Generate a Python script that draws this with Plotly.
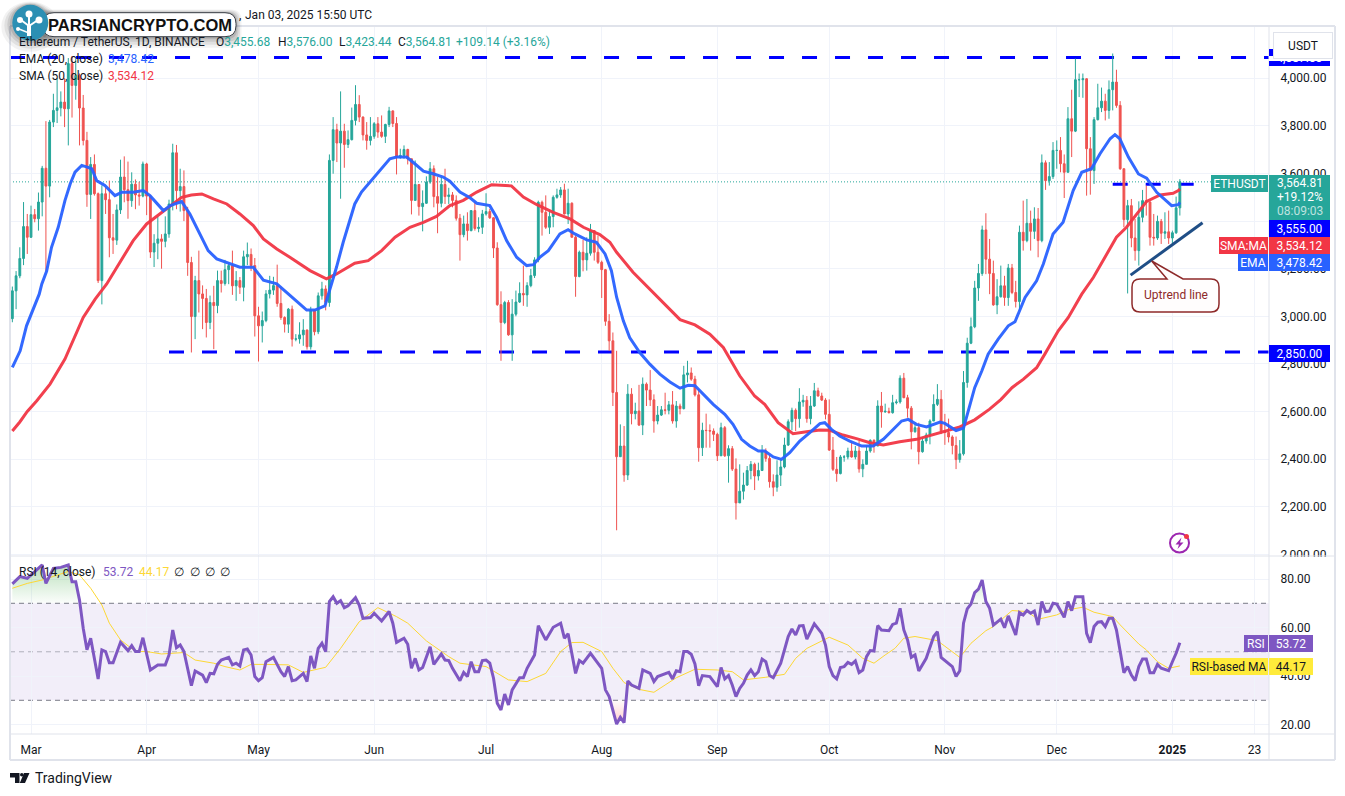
import pandas as pd
import plotly.graph_objects as go
from plotly.subplots import make_subplots

# ETHUSDT daily candles, one entry per day from 2024-02-25
first_open = 2990
closes = [3107, 3170, 3243, 3377, 3332, 3427, 3410, 3480, 3622, 3547, 3816, 3865, 3876, 3900, 3872, 4062, 3970, 4012, 3875, 3739,
          3512, 3638, 3515, 3150, 3515, 3490, 3330, 3320, 3447, 3585, 3532, 3486, 3555, 3510, 3505, 3640, 3505, 3270, 3307, 3325,
          3315, 3346, 3472, 3687, 3528, 3545, 3444, 3226, 2999, 3150, 3094, 3075, 2974, 3058, 3045, 3150, 3138, 3196, 3213, 3128,
          3150, 3122, 3250, 3260, 3213, 3002, 2960, 2982, 3094, 3110, 3129, 3054, 2995, 2967, 3030, 2904, 2905, 2922, 2942, 2872,
          3026, 2935, 3086, 3115, 3058, 3655, 3784, 3728, 3778, 3722, 3742, 3823, 3890, 3837, 3762, 3739, 3756, 3809, 3774, 3756,
          3806, 3863, 3810, 3669, 3676, 3701, 3662, 3487, 3554, 3461, 3475, 3564, 3620, 3503, 3475, 3554, 3503, 3510, 3487, 3412,
          3343, 3388, 3360, 3444, 3369, 3374, 3430, 3440, 3414, 3287, 3049, 2974, 3058, 2922, 3009, 3060, 3096, 3090, 3129, 3171,
          3237, 3479, 3437, 3374, 3419, 3500, 3510, 3531, 3430, 3475, 3332, 3167, 3269, 3237, 3265, 3360, 3269, 3227, 3196, 2979,
          2897, 2680, 2410, 2455, 2333, 2673, 2591, 2602, 2543, 2715, 2690, 2649, 2560, 2585, 2607, 2605, 2628, 2560, 2623, 2612,
          2754, 2762, 2736, 2670, 2448, 2521, 2520, 2518, 2504, 2414, 2532, 2414, 2444, 2358, 2216, 2265, 2291, 2352, 2378, 2329,
          2352, 2434, 2403, 2305, 2282, 2333, 2367, 2459, 2557, 2605, 2570, 2640, 2647, 2570, 2623, 2687, 2665, 2648, 2588, 2438,
          2357, 2339, 2409, 2409, 2434, 2409, 2434, 2359, 2378, 2434, 2479, 2455, 2623, 2598, 2601, 2595, 2637, 2640, 2740, 2658,
          2614, 2515, 2532, 2431, 2476, 2501, 2560, 2630, 2651, 2518, 2512, 2493, 2457, 2398, 2422, 2722, 2887, 2956, 3119, 3180,
          3363, 3240, 3180, 3048, 3082, 3128, 3079, 3203, 3100, 3062, 3353, 3318, 3391, 3357, 3409, 3318, 3645, 3570, 3587, 3697,
          3697, 3641, 3605, 3830, 3778, 3994, 3994, 3998, 3704, 3612, 3826, 3876, 3904, 3865, 3952, 3984, 3886, 3620, 3406, 3465,
          3329, 3276, 3416, 3486, 3480, 3332, 3329, 3399, 3349, 3355, 3329, 3351, 3455.68, 3564.81]
highs = [3125, 3190, 3290, 3480, 3430, 3465, 3451, 3520, 3632, 3820, 3825, 3935, 4000, 3945, 4000, 4085, 4093, 4083, 4020, 3930,
         3775, 3669, 3680, 3520, 3550, 3542, 3570, 3430, 3470, 3658, 3672, 3650, 3605, 3575, 3565, 3650, 3645, 3510, 3345, 3420,
         3345, 3420, 3490, 3725, 3720, 3620, 3613, 3460, 3250, 3170, 3276, 3130, 3115, 3087, 3128, 3192, 3192, 3237, 3225, 3276,
         3190, 3165, 3276, 3310, 3285, 3245, 3040, 3020, 3110, 3170, 3166, 3217, 3125, 3000, 3035, 3045, 2925, 2975, 2988, 2945,
         3040, 3030, 3100, 3145, 3130, 3680, 3837, 3809, 3945, 3809, 3781, 3877, 3971, 3929, 3840, 3816, 3837, 3816, 3837, 3844,
         3809, 3880, 3865, 3837, 3704, 3718, 3704, 3662, 3655, 3554, 3529, 3588, 3648, 3634, 3585, 3585, 3620, 3540, 3522, 3508,
         3430, 3423, 3437, 3444, 3479, 3416, 3447, 3517, 3451, 3416, 3311, 3105, 3065, 3068, 3072, 3108, 3143, 3213, 3143, 3199,
         3248, 3486, 3486, 3508, 3444, 3508, 3536, 3543, 3557, 3536, 3479, 3339, 3276, 3321, 3332, 3388, 3353, 3339, 3234, 3199,
         3009, 2932, 2855, 2546, 2539, 2715, 2698, 2637, 2712, 2743, 2722, 2774, 2672, 2623, 2623, 2679, 2644, 2686, 2644, 2633,
         2792, 2813, 2785, 2750, 2694, 2553, 2591, 2546, 2529, 2511, 2553, 2539, 2458, 2455, 2403, 2378, 2343, 2371, 2392, 2385,
         2385, 2459, 2445, 2417, 2336, 2395, 2403, 2490, 2567, 2616, 2613, 2698, 2670, 2665, 2665, 2720, 2700, 2679, 2656, 2651,
         2493, 2409, 2417, 2417, 2448, 2476, 2455, 2476, 2399, 2455, 2483, 2483, 2647, 2682, 2633, 2616, 2670, 2651, 2752, 2762,
         2670, 2623, 2549, 2553, 2490, 2511, 2567, 2672, 2715, 2690, 2590, 2570, 2500, 2495, 2480, 2770, 2910, 2995, 3149, 3220,
         3381, 3433, 3325, 3234, 3156, 3213, 3170, 3220, 3220, 3149, 3381, 3486, 3493, 3444, 3458, 3455, 3680, 3655, 3648, 3732,
         3739, 3753, 3680, 3879, 3952, 4083, 4020, 4020, 4000, 3753, 3837, 3977, 3961, 3935, 3991, 4104, 4036, 3904, 3620, 3489,
         3493, 3409, 3483, 3531, 3549, 3483, 3430, 3423, 3409, 3437, 3444, 3360, 3503, 3576]
lows = [2975, 3030, 3160, 3215, 3262, 3330, 3395, 3360, 3420, 3190, 3500, 3795, 3812, 3840, 3795, 3718, 3835, 3910, 3718, 3718,
        3460, 3409, 3507, 3140, 3050, 3430, 3248, 3262, 3300, 3430, 3479, 3410, 3460, 3450, 3465, 3500, 3425, 3245, 3207, 3240,
        3200, 3290, 3330, 3445, 3450, 3440, 3400, 3170, 2848, 2904, 3016, 2946, 2911, 2946, 2862, 3013, 3100, 3129, 3135, 3090,
        3065, 3094, 3063, 3215, 3190, 2915, 2810, 2890, 2975, 3075, 3090, 3040, 2985, 2932, 2930, 2873, 2895, 2885, 2876, 2860,
        2860, 2920, 2925, 3070, 3025, 3040, 3599, 3648, 3494, 3624, 3707, 3739, 3802, 3816, 3739, 3700, 3718, 3746, 3750, 3750,
        3728, 3795, 3795, 3596, 3662, 3662, 3638, 3428, 3487, 3423, 3357, 3472, 3557, 3458, 3349, 3458, 3472, 3472, 3458, 3402,
        3234, 3332, 3318, 3357, 3360, 3353, 3346, 3423, 3409, 3245, 3044, 2813, 2967, 2918, 2813, 3000, 3056, 3044, 3040, 3122,
        3161, 3227, 3339, 3367, 3346, 3374, 3494, 3498, 3428, 3388, 3332, 3082, 3164, 3189, 3192, 3255, 3234, 3220, 3077, 2960,
        2855, 2623, 2101, 2409, 2305, 2312, 2546, 2567, 2539, 2501, 2623, 2623, 2511, 2546, 2581, 2588, 2588, 2549, 2532, 2588,
        2609, 2722, 2729, 2663, 2389, 2413, 2448, 2448, 2476, 2392, 2413, 2409, 2301, 2350, 2146, 2216, 2230, 2287, 2315, 2270,
        2310, 2350, 2389, 2280, 2244, 2263, 2287, 2361, 2455, 2521, 2518, 2532, 2620, 2553, 2546, 2619, 2663, 2644, 2567, 2434,
        2350, 2305, 2336, 2389, 2399, 2406, 2399, 2343, 2324, 2378, 2427, 2427, 2455, 2532, 2595, 2592, 2591, 2630, 2633, 2656,
        2574, 2441, 2511, 2378, 2427, 2465, 2462, 2560, 2623, 2505, 2460, 2470, 2420, 2358, 2385, 2415, 2700, 2883, 2950, 3065,
        3170, 3177, 3093, 3044, 3009, 3079, 3044, 3044, 3093, 3037, 3023, 3276, 3311, 3276, 3325, 3248, 3311, 3531, 3549, 3577,
        3620, 3605, 3497, 3605, 3669, 3774, 3921, 3918, 3507, 3511, 3556, 3823, 3858, 3823, 3830, 3865, 3876, 3615, 3374, 3096,
        3290, 3234, 3213, 3395, 3423, 3297, 3297, 3321, 3304, 3325, 3304, 3304, 3346, 3423.44]

# EMA 20 and SMA 50, read at the day offsets beside them
ema_days = [0, 2.1, 3.8, 5.6, 7.2, 7.9, 9.2, 10.5, 12.3, 14.1, 15.5, 16.8, 18.6, 20.1, 21.3, 22.6, 24.8, 27.5, 29.3, 32.4, 35.1, 36.9,
            40.5, 42.3, 45.4, 47.6, 50.3, 52.5, 54.8, 58.4, 61, 64.6, 67.3, 70.9, 74.4, 77.1, 78.9, 81.1, 83.8, 85.1, 86.9, 88.7,
            90.5, 91.8, 93.6, 95.9, 98.5, 101.2, 103, 105.7, 107.9, 110.2, 112.8, 115.5, 117.3, 120, 122.7, 124.5, 128, 129.8,
            132.5, 135.2, 137.9, 139.7, 141.4, 143.7, 146.8, 149, 150.8, 154, 156.6, 158.9, 160.6, 162, 163.8, 165.5, 168.2,
            170.9, 173.6, 176.3, 179, 181.2, 183, 185.2, 187.9, 191, 193.2, 195.5, 197.7, 200, 201.7, 204, 206.2, 208.4, 211.1,
            213.8, 216.5, 217.8, 219.6, 221.8, 224.5, 227.7, 230.8, 233.5, 236.1, 238.4, 240.2, 242.4, 245.1, 246.9, 248.7,
            250, 253, 255, 256, 257, 258, 259.9, 261.6, 264.3, 267, 268.8, 271.5, 274.6, 276.4, 279, 281.7, 284.4, 286.7, 289.3,
            291.6, 294.3, 295.6, 296.9, 299.2, 301.9, 304.1, 306.8, 309.5, 310.8, 312.6, 313]
ema_vals = [2785, 2855, 2960, 3030, 3093, 3136, 3190, 3290, 3374, 3486, 3556, 3606, 3634, 3627, 3620, 3570, 3550, 3507, 3521, 3521, 3528, 3507,
            3444, 3465, 3482, 3430, 3346, 3276, 3241, 3220, 3206, 3206, 3152, 3136, 3086, 3051, 3026, 3026, 3044, 3108, 3206, 3311,
            3402, 3472, 3522, 3564, 3613, 3662, 3669, 3669, 3641, 3610, 3599, 3585, 3568, 3522, 3498, 3475, 3465, 3416,
            3318, 3248, 3213, 3217, 3248, 3276, 3346, 3364, 3346, 3321, 3311, 3262, 3192, 3080, 2981, 2911, 2848,
            2799, 2757, 2724, 2698, 2710, 2708, 2672, 2630, 2588, 2546, 2483, 2455, 2434, 2434, 2409, 2399, 2427, 2476,
            2511, 2549, 2553, 2525, 2497, 2476, 2455, 2455, 2483, 2525, 2560, 2567, 2546, 2535, 2546, 2556,
            2550, 2520, 2530, 2590, 2650, 2700, 2770, 2841, 2904, 2960, 2977, 3079, 3149, 3220, 3346, 3395, 3528, 3605, 3620,
            3683, 3746, 3763, 3746, 3669, 3598, 3580, 3521, 3483, 3465, 3469, 3478.42]
sma_days = [0, 2, 4, 6.5, 10.1, 14.1, 19, 22.2, 25.3, 28, 32.4, 36, 39.6, 43.2, 45.4, 48, 50.8, 53.9, 57.5, 61, 64.6, 67.3, 70.9, 74.4, 78,
            79.8, 84.2, 86.9, 91.8, 95.4, 99, 102.6, 106.6, 110.2, 113.7, 117.3, 120.9, 124.5, 128.5, 133.8, 137, 140.5, 145, 149.5,
            153.1, 157.5, 160.2, 162, 166.4, 172.7, 176.3, 179, 183, 187, 190.6, 195, 199, 201.7, 205.3, 209.3, 212.9, 216.5, 219.2,
            222.7, 226.3, 229.9, 233.5, 237.9, 242.4, 248.7, 254, 258, 262, 265, 268, 271, 274.6, 276.8, 280.4, 283.1, 286.7, 289.8,
            293.4, 296, 298.7, 301.4, 304.1, 307.7, 311.2, 312.6, 313]
sma_vals = [2518, 2556, 2600, 2644, 2715, 2820, 2995, 3072, 3136, 3206, 3318, 3388, 3430, 3472, 3500, 3510, 3514, 3493, 3472, 3430, 3381, 3325, 3283, 3248, 3213,
            3192, 3157, 3178, 3223, 3234, 3276, 3332, 3374, 3395, 3420, 3465, 3487, 3522, 3553, 3548, 3501, 3470, 3437, 3409,
            3374, 3343, 3311, 3269, 3185, 3087, 3030, 2986, 2964, 2925, 2869, 2750, 2665, 2630, 2553, 2507, 2515, 2522, 2521,
            2501, 2486, 2469, 2459, 2473, 2483, 2511, 2535, 2565, 2610, 2650, 2700, 2735, 2784, 2841, 2939, 2995, 3093, 3163,
            3262, 3332, 3374, 3430, 3483, 3510, 3517, 3528, 3534.12]

# RSI pane
rsi_days = [0, 2, 4, 6, 8, 9, 11, 13, 15, 16, 17, 18, 19, 20, 21, 23, 24, 25, 26, 27, 29, 31, 32, 33, 34, 35, 37, 39, 41, 42, 43, 44, 45, 46, 48, 49,
            51, 52, 53, 54, 55, 56, 58, 59, 60, 61, 62, 63, 64, 65, 66, 67, 68, 70, 72, 73, 74, 75, 76, 78, 79, 80, 81, 82, 83, 84, 85, 86, 87, 88, 89, 90,
            92, 93, 94, 96, 97, 99, 101, 102, 103, 105, 106, 107, 108, 109, 110, 112, 113, 115, 116, 117, 118, 120, 121, 122, 123, 124, 125, 126, 127, 128,
            129, 130, 131, 132, 133, 134, 136, 137, 138, 140, 141, 143, 145, 147, 148, 149, 151, 152, 153, 155, 158, 159, 160, 162, 163, 164, 165, 166, 168,
            169, 171, 172, 173, 176, 177, 178, 179, 180, 181, 182, 183, 184, 185, 187, 189, 190, 191, 192, 193, 194, 195, 196, 197, 198, 199, 200, 201, 202,
            203, 204, 206, 208, 209, 210, 211, 212, 213, 215, 217, 218, 219, 220, 221, 222, 223, 224, 225, 226, 227, 228, 229, 230, 231, 232, 233, 235, 236,
            237, 238, 239, 240, 241, 242, 243, 245, 247, 248, 249, 250, 252, 253, 254, 255, 256, 257, 258, 259, 260, 261, 262, 263, 265, 266, 267, 269, 270,
            271, 272, 273, 274, 275, 276, 277, 278, 279, 280, 282, 283, 284, 285, 287, 288, 289, 290, 291, 292, 293, 294, 295, 296, 298, 299, 300, 301, 302,
            303, 304, 305, 306, 307, 308, 310, 311, 312, 313]
rsi_vals = [78, 81, 80.3, 83, 85.8, 78.2, 84.4, 84.8, 85.8, 78.9, 78.9, 71.4, 59.7, 50.8, 55.6, 38.8, 50.8, 50.1, 45.5, 45.5, 53.9, 50.5, 52.5, 50.1, 50.1, 55.8, 42.5, 44.6, 44.6, 48.7, 59, 51.7, 52.8, 50.1, 36, 42.1,
            40.4, 37.3, 41.1, 40.9, 44.8, 46.6, 47.7, 44.6, 45.3, 44.2, 50.8, 51.2, 48.7, 39.8, 38.1, 39.3, 45.9, 47.7, 41.8, 39.8, 43.9, 38.1, 38.4, 41.1, 37.7, 48.3, 43.2, 51.4, 53.5, 50.1, 70.7, 72.7, 70, 71.1, 68.2, 69,
            72.3, 69.3, 63.8, 64.1, 65.9, 62.7, 66.6, 61.8, 53.9, 55.6, 53.1, 43.2, 47.3, 42.5, 43.5, 52.1, 44.8, 49.1, 46.6, 46.4, 43.2, 38.1, 41.5, 39.8, 45.9, 41.8, 41.8, 46.4, 46.6, 45.3,
            39.1, 28.8, 26, 32.6, 28.1, 34.3, 39.3, 39.3, 43.2, 48.7, 60.8, 54.9, 60.1, 61.8, 55.6, 57.4, 41.1, 46.4, 45.3, 49.4, 43.2, 34.3, 31.5, 20.2, 23, 20.8, 38, 36.3, 34.9,
            42.5, 41.1, 37.7, 39.8, 41.5, 38.8, 42.2, 41.8, 50.1, 50.1, 49, 45, 36, 40.2, 39.8, 35.6, 43.5, 38.8, 40.2, 36.3, 31.5, 34.9, 37, 40.4, 42.5, 40.2, 41.8, 47, 45.9,
            40.2, 39.3, 45.3, 56.3, 59.4, 56.9, 60.7, 60.8, 55.2, 61.5, 57.6, 52.8, 43.9, 40.2, 38.8, 43.5, 43.9, 45.6, 44.8, 46.2, 41.4, 42.5, 48, 50.5, 50.3, 60.8, 59, 58.7, 61.3,
            61.8, 67.9, 59, 54.9, 47.7, 48.7, 42.1, 47.3, 56.3, 58.3, 47.7, 46.4, 43.9, 39.8, 42.2, 61.8, 67.7, 69.7, 74.4, 75.8, 79.6, 70.7, 67.9, 61, 63.5, 59.9, 64.8, 56.9, 66.2,
            65.2, 67, 65.9, 66.8, 61, 70.7, 66.6, 66.8, 70, 69.7, 64.2, 70.7, 67, 72.7, 72.7, 57.6, 53.8, 60.4, 62.2, 62.4, 60.4, 63.8, 63.8, 59, 41.4, 43.9, 40.4, 38.1, 43.9,
            47, 47, 41.4, 41.4, 44.8, 43.2, 42.2, 45.9, 49.4, 53.72]
rsi_ma_days = [0, 4, 8, 12, 15, 18, 21, 24, 26, 29, 33, 36, 40, 46, 49, 54, 57, 61, 64, 68, 74, 78, 84, 88, 93, 98, 103, 106, 111, 117, 120, 127, 133, 138, 143, 147,
               150, 153, 158, 161, 164, 168, 172, 175, 178, 183, 189, 193, 196, 202, 207, 210, 213, 219, 224, 228, 231, 234, 236.6, 239, 242, 248, 254, 257, 261, 263, 268,
               272, 275, 280, 283, 287, 290, 295, 297, 302, 304, 307, 310, 313]
rsi_ma_vals = [76.2, 78.2, 79.6, 81.7, 83.1, 81.7, 76.2, 69.3, 61.8, 54.9, 50.1, 50.1, 49.1, 49.7, 46.6, 45.3, 43.9, 42.5, 44.8, 44.8, 44.6, 41.5, 43.6, 51.4, 62.4, 68.2, 64.5, 61.8, 54.5, 48, 45.3, 43.9, 38.4, 37.7, 41.1, 50.1,
               53.8, 53.9, 50.1, 43.2, 37.3, 34.5, 33.3, 36.3, 39.3, 42.8, 42.5, 41.8, 38.4, 39.5, 40.7, 47.3, 51.4, 56, 52.8, 47.3, 45.3, 48.7, 51.4, 55.6, 56.3, 54.6, 47.7, 53.5, 58.7, 60.4, 67,
               66.6, 63.4, 65.2, 67.3, 68.4, 66.3, 64.5, 61.1, 53.2, 50.8, 45.9, 43.2, 44.17]

# levels and the drawn trend line
top_level = 4087
support_level = 2850
breakout_level = 3555
trend_dates = ["2024-12-20 19:00", "2025-01-09 02:00"]
trend_prices = [3173, 3393]
last_price = 3564.81

price_ticks = [2000, 2200, 2400, 2600, 2800, 3000, 3200, 3400, 3600, 3800, 4000]
# 3,400 lies wholly under the tags on the scale, so it carries no text
price_labels = ["2,000.00", "2,200.00", "2,400.00", "2,600.00", "2,800.00", "3,000.00", "3,200.00", "", "3,600.00", "3,800.00", "4,000.00"]
rsi_ticks = [20, 40, 60, 80]
time_ticks = ["2024-03-01", "2024-04-01", "2024-05-01", "2024-06-01", "2024-07-01", "2024-08-01",
              "2024-09-01", "2024-10-01", "2024-11-01", "2024-12-01", "2025-01-01", "2025-01-23"]
time_labels = ["Mar", "Apr", "May", "Jun", "Jul", "Aug", "Sep", "Oct", "Nov", "Dec", "<b>2025</b>", "23"]

W, H = 1345, 796
L, R, T, B = 10, 1269, 26, 734
SPLIT = 556
TEAL, RED, BLUE, PURE_BLUE = "#26a69a", "#ef5350", "#2962ff", "#0000ff"
SMA_RED, RSI_PURPLE, GOLD = "#f23645", "#7e57c2", "#fdd835"
INK, GRID, EDGE = "#131722", "#f0f3fa", "#e0e3eb"
FONT = "Roboto"


def px(x):
    return (x - L) / (R - L)


def py(y):
    return (B - y) / (B - T)


def round_rect(x0, y0, x1, y1, r):
    return (f"M{px(x0 + r)},{py(y0)} L{px(x1 - r)},{py(y0)} Q{px(x1)},{py(y0)} {px(x1)},{py(y0 + r)} "
            f"L{px(x1)},{py(y1 - r)} Q{px(x1)},{py(y1)} {px(x1 - r)},{py(y1)} L{px(x0 + r)},{py(y1)} "
            f"Q{px(x0)},{py(y1)} {px(x0)},{py(y1 - r)} L{px(x0)},{py(y0 + r)} Q{px(x0)},{py(y0)} {px(x0 + r)},{py(y0)} Z")


dates = pd.date_range("2024-02-25", periods=len(closes))
opens = [first_open] + closes[:-1]


def day_dates(days):
    return dates[0] + pd.to_timedelta(days, unit="D")


fig = make_subplots(rows=2, cols=1, shared_xaxes=True, vertical_spacing=0,
                    row_heights=[SPLIT - T, B - SPLIT])

# Price pane
fig.add_trace(go.Candlestick(x=dates, open=opens, high=highs, low=lows, close=closes,
                             increasing=dict(line=dict(color=TEAL, width=1), fillcolor=TEAL),
                             decreasing=dict(line=dict(color=RED, width=1), fillcolor=RED),
                             whiskerwidth=0, hoverinfo="skip"), row=1, col=1)
fig.add_trace(go.Scatter(x=day_dates(sma_days), y=sma_vals, mode="lines",
                         line=dict(color=SMA_RED, width=3), opacity=0.95, hoverinfo="skip"), row=1, col=1)
fig.add_trace(go.Scatter(x=day_dates(ema_days), y=ema_vals, mode="lines",
                         line=dict(color=BLUE, width=3), opacity=0.95, hoverinfo="skip"), row=1, col=1)
fig.add_trace(go.Scatter(x=trend_dates, y=trend_prices, mode="lines",
                         line=dict(color="#1f4e86", width=3), hoverinfo="skip"), row=1, col=1)

# RSI pane, with the shaded overbought and oversold parts
rsi_dates = day_dates(rsi_days)
fig.add_trace(go.Scatter(x=rsi_dates, y=[70] * len(rsi_vals), mode="lines", line=dict(width=0), hoverinfo="skip"), row=2, col=1)
fig.add_trace(go.Scatter(x=rsi_dates, y=[max(v, 70) for v in rsi_vals], mode="lines", line=dict(width=0), fill="tonexty",
                         fillgradient=dict(type="vertical", start=86, stop=70,
                                           colorscale=[[0, "rgba(76,175,80,0.38)"], [1, "rgba(76,175,80,0.02)"]]),
                         hoverinfo="skip"), row=2, col=1)
fig.add_trace(go.Scatter(x=rsi_dates, y=[30] * len(rsi_vals), mode="lines", line=dict(width=0), hoverinfo="skip"), row=2, col=1)
fig.add_trace(go.Scatter(x=rsi_dates, y=[min(v, 30) for v in rsi_vals], mode="lines", line=dict(width=0), fill="tonexty",
                         fillgradient=dict(type="vertical", start=30, stop=20,
                                           colorscale=[[0, "rgba(255,82,82,0.02)"], [1, "rgba(255,82,82,0.3)"]]),
                         hoverinfo="skip"), row=2, col=1)
fig.add_trace(go.Scatter(x=day_dates(rsi_ma_days), y=rsi_ma_vals, mode="lines",
                         line=dict(color=GOLD, width=1), hoverinfo="skip"), row=2, col=1)
fig.add_trace(go.Scatter(x=rsi_dates, y=rsi_vals, mode="lines",
                         line=dict(color=RSI_PURPLE, width=3), hoverinfo="skip"), row=2, col=1)

# Dashed levels sit over the grid and under the candles
for level, start, end in [(top_level, "2024-02-24 09:00", "2025-01-26 21:00"),
                          (support_level, "2024-04-07", "2025-01-26 21:00"),
                          (breakout_level, "2024-12-16", "2025-01-07 12:00")]:
    fig.add_shape(type="line", xref="x", yref="y", x0=start, x1=end, y0=level, y1=level, layer="between",
                  line=dict(color=PURE_BLUE, width=3, dash="15px,18px"))
fig.add_shape(type="line", xref="paper", yref="y", x0=0, x1=px(1211), y0=last_price, y1=last_price, layer="between",
              line=dict(color=TEAL, width=1, dash="1px,2px"))

fig.add_shape(type="rect", xref="paper", yref="y2", x0=0, x1=1, y0=30, y1=70, layer="below",
              fillcolor="rgba(126,87,194,0.1)", line_width=0)
for level, color in [(70, "#787b86"), (50, "rgba(120,123,134,0.55)"), (30, "#787b86")]:
    fig.add_shape(type="line", xref="paper", yref="y2", x0=0, x1=1, y0=level, y1=level, layer="between",
                  line=dict(color=color, width=1, dash="5px,4px"))

# Frame of the widget
for x0, y0, x1, y1 in [(L, T, 1335, T), (L, T, L, 760), (L, 760, 1335, 760), (1335, T, 1335, 760),
                       (R, T, R, 760), (L, SPLIT, 1335, SPLIT), (L, B, 1335, B)]:
    fig.add_shape(type="line", xref="paper", yref="paper", x0=px(x0), x1=px(x1), y0=py(y0), y1=py(y1),
                  line=dict(color=EDGE, width=2 if x0 == L and y0 in (T, 760) or x1 == 1335 and x0 == 1335 else 1))

# Callout for the trend line
callout = (f"M{px(1140)},{py(279)} L{px(1167)},{py(279)} L{px(1151.7)},{py(261)} L{px(1183)},{py(279)} "
           f"L{px(1211)},{py(279)} Q{px(1219)},{py(279)} {px(1219)},{py(287)} L{px(1219)},{py(304)} "
           f"Q{px(1219)},{py(312)} {px(1211)},{py(312)} L{px(1140)},{py(312)} Q{px(1132)},{py(312)} {px(1132)},{py(304)} "
           f"L{px(1132)},{py(287)} Q{px(1132)},{py(279)} {px(1140)},{py(279)} Z")
fig.add_shape(type="path", xref="paper", yref="paper", path=callout, fillcolor="#fffdfd",
              line=dict(color="#8e2a2a", width=1.5))

# Lightning badge
fig.add_shape(type="circle", xref="paper", yref="paper", x0=px(1170), x1=px(1189), y0=py(533.5), y1=py(552.5),
              line=dict(color="#9c27b0", width=2), fillcolor="white")
bolt = (f"M{px(1181.5)},{py(537.5)} L{px(1175.5)},{py(544.5)} L{px(1179)},{py(544.5)} L{px(1177.5)},{py(549)} "
        f"L{px(1183.5)},{py(542.5)} L{px(1180)},{py(542.5)} Z")
fig.add_shape(type="path", xref="paper", yref="paper", path=bolt, fillcolor="#9c27b0", line_width=0)
fig.add_shape(type="circle", xref="paper", yref="paper", x0=px(1184), x1=px(1189), y0=py(534), y1=py(539),
              fillcolor=SMA_RED, line_width=0)

# TradingView mark
tv_mark = (f"M{px(10)},{py(773)} L{px(19.5)},{py(773)} L{px(19.5)},{py(783)} L{px(15)},{py(783)} L{px(15)},{py(777.5)} "
           f"L{px(10)},{py(777.5)} Z M{px(24)},{py(773)} L{px(29.5)},{py(773)} L{px(25)},{py(783)} L{px(19.8)},{py(783)} Z")
fig.add_shape(type="path", xref="paper", yref="paper", path=tv_mark, fillcolor=INK, line_width=0)
fig.add_shape(type="circle", xref="paper", yref="paper", x0=px(20), x1=px(23.6), y0=py(773), y1=py(776.6),
              fillcolor=INK, line_width=0)

# Site badge pasted over the corner, with its soft shadow
for grow, alpha in [(11, 0.05), (8, 0.07), (5, 0.09), (2.5, 0.11)]:
    fig.add_shape(type="path", xref="paper", yref="paper",
                  path=round_rect(43 - grow, 12.7 - grow * 0.3, 236 + grow * 0.5, 36.7 + grow, 11),
                  fillcolor=f"rgba(0,0,0,{alpha})", line_width=0)
    fig.add_shape(type="circle", xref="paper", yref="paper", x0=px(12.3 - grow), x1=px(48.3 + grow),
                  y0=py(4.8 - grow * 0.3), y1=py(40.8 + grow), fillcolor=f"rgba(0,0,0,{alpha})", line_width=0)
fig.add_shape(type="path", xref="paper", yref="paper", path=round_rect(43, 12.7, 236, 36.7, 11),
              fillcolor="white", line=dict(color="#3a3f47", width=1))
fig.add_shape(type="circle", xref="paper", yref="paper", x0=px(12.3), x1=px(48.3), y0=py(4.8), y1=py(40.8),
              fillcolor="#2b8fb3", line_width=0)
for x0, y0, x1, y1, w in [(29, 36, 29, 24, 4), (29, 26, 21, 20, 2), (29, 26, 38, 20, 2), (29, 26, 29, 15, 2), (29, 33, 19, 29, 1.5)]:
    fig.add_shape(type="line", xref="paper", yref="paper", x0=px(x0), x1=px(x1), y0=py(y0), y1=py(y1),
                  line=dict(color="white", width=w))
for cx, cy, r in [(29, 14, 3.5), (20, 20, 3), (39, 20, 3.5), (18, 29, 2)]:
    fig.add_shape(type="circle", xref="paper", yref="paper", x0=px(cx - r), x1=px(cx + r), y0=py(cy - r), y1=py(cy + r),
                  fillcolor="white", line_width=0)


def label(x, y, text, color=INK, size=12, anchor="left", bold=False, family=FONT):
    if bold:
        text = f"<b>{text}</b>"
    fig.add_annotation(xref="paper", yref="paper", x=px(x), y=py(y), text=text, showarrow=False,
                       xanchor=anchor, yanchor="middle", borderpad=0,
                       font=dict(family=family, size=size, color=color))


def box(x0, y0, x1, y1, text, bg, color="white", border=None):
    fig.add_annotation(xref="paper", yref="paper", x=px(x0), y=py(y0), text=text, showarrow=False,
                       xanchor="left", yanchor="top", width=x1 - x0, height=y1 - y0, align="center", valign="middle",
                       bgcolor=bg, borderpad=0, bordercolor=border, borderwidth=1 if border else 0,
                       font=dict(family=FONT, size=12, color=color))


# Header and legends
label(238, 14.5, ",")
label(244, 14.5, "Jan 03, 2025 15:50 UTC")
label(18, 42, "Ethereum / TetherUS, 1D, BINANCE")
for x, head, val in [(215, "O", "3,455.68"), (277, "H", "3,576.00"), (338, "L", "3,423.44"), (397, "C", "3,564.81")]:
    label(x, 42, f'{head}<span style="color:{TEAL}">{val}</span>')
label(455, 42, "+109.14 (+3.16%)", color=TEAL)
label(18, 59, "EMA (20, close)")
label(107, 59, "3,478.42", color=BLUE)
label(18, 76, "SMA (50, close)")
label(107, 76, "3,534.12", color=SMA_RED)
label(18, 572, "RSI (14, close)")
label(102, 572, "53.72", color=RSI_PURPLE)
label(138, 572, "44.17", color=GOLD)
for x in [179, 195, 210, 225]:
    label(x, 572, "∅", anchor="center")
label(1175.5, 295, "Uptrend line", color="#8e2a2a", anchor="center")
label(34, 778, "TradingView", size=14)
label(140, 25, "PARSIANCRYPTO.COM", color="#111111", size=16.5, anchor="center", bold=True, family="Liberation Sans")

# Price scale tags
box(1270, 557, 1334, 562, " ", "white")
box(1269, 49, 1330, 66, "4,087.00", PURE_BLUE)
box(1269, 56, 1334, 60.5, " ", "white")
box(1273, 32, 1331, 57, "USDT", "white", INK, EDGE)
box(1211, 175, 1268, 192, "ETHUSDT", TEAL)
box(1269, 175, 1330, 220, " ", TEAL)
label(1299.5, 183, "3,564.81", color="white", anchor="center")
label(1299.5, 197, "+19.12%", color="white", anchor="center")
label(1299.5, 211, "08:09:03", color="rgba(255,255,255,0.7)", anchor="center")
box(1269, 220, 1330, 237, "3,555.00", PURE_BLUE)
box(1219, 237, 1268, 254, "SMA:MA", SMA_RED)
box(1269, 237, 1330, 254, "3,534.12", SMA_RED)
box(1238, 254, 1268, 271, "EMA", BLUE)
box(1269, 254, 1330, 271, "3,478.42", BLUE)
box(1269, 345, 1330, 362, "2,850.00", PURE_BLUE)
box(1244, 635, 1268, 652, "RSI", RSI_PURPLE)
box(1269, 635, 1313, 652, "53.72", RSI_PURPLE)
box(1190, 658, 1268, 675, "RSI-based MA", "#ffeb3b", INK)
box(1269, 658, 1313, 675, "44.17", "#ffeb3b", INK)

x_left = pd.Timestamp("2024-03-01") - pd.Timedelta(days=5.63)
x_right = pd.Timestamp("2024-03-01") + pd.Timedelta(days=331.9)
axis_font = dict(family=FONT, size=12, color=INK)

fig.update_xaxes(range=[x_left, x_right], tickvals=time_ticks, ticktext=time_labels, showgrid=True, gridcolor=GRID, gridwidth=1,
                 zeroline=False, showline=False, ticks="", tickfont=axis_font, rangeslider_visible=False, tickangle=0)
fig.update_xaxes(ticks="outside", ticklen=5, tickcolor="rgba(0,0,0,0)", row=2, col=1)
fig.update_yaxes(side="right", gridcolor=GRID, gridwidth=1, zeroline=False, showline=False, tickfont=axis_font,
                 ticks="outside", ticklen=8, tickcolor="rgba(0,0,0,0)")
fig.update_yaxes(range=[1992.9, 4219.7], tickvals=price_ticks, ticktext=price_labels, row=1, col=1)
fig.update_yaxes(range=[16.1, 89.5], tickvals=rsi_ticks, tickformat=".2f", row=2, col=1)

fig.update_layout(width=W, height=H, margin=dict(l=L, r=W - R, t=T, b=H - B), paper_bgcolor="white", plot_bgcolor="white",
                  showlegend=False, dragmode=False, font=dict(family=FONT))

fig.write_html("out.html", post_script="document.body.style.margin='0';document.body.style.overflow='hidden';",
               config=dict(displayModeBar=False))
